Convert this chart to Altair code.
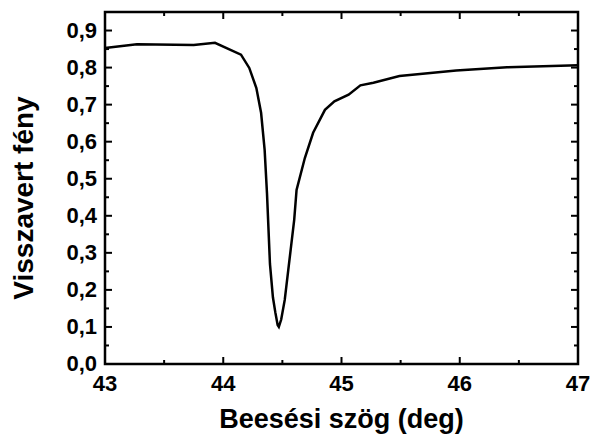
import altair as alt
import pandas as pd

# Curve data
angle = [43.0, 43.27, 43.75, 43.93, 44.15, 44.22, 44.28, 44.32, 44.35, 44.37,
         44.395, 44.42, 44.44, 44.46, 44.47, 44.49, 44.52, 44.55, 44.57, 44.60,
         44.62, 44.69, 44.76, 44.86, 44.94, 45.06, 45.16, 45.27, 45.49, 45.97,
         46.40, 47.0]
reflect = [0.853, 0.863, 0.861, 0.867, 0.835, 0.799, 0.745, 0.678, 0.578, 0.46,
           0.27, 0.18, 0.14, 0.105, 0.10, 0.12, 0.173, 0.254, 0.308, 0.389,
           0.47, 0.556, 0.624, 0.686, 0.709, 0.727, 0.752, 0.759, 0.777, 0.792,
           0.801, 0.806]

x_major = [43, 44, 45, 46, 47]
x_labels = ["43", "44", "45", "46", "47"]
x_minor = [43.5, 44.5, 45.5, 46.5]
y_major = [0.0, 0.1, 0.2, 0.3, 0.4, 0.5, 0.6, 0.7, 0.8, 0.9]
y_labels = ["0,0", "0,1", "0,2", "0,3", "0,4", "0,5", "0,6", "0,7", "0,8", "0,9"]
y_minor = [0.05, 0.15, 0.25, 0.35, 0.45, 0.55, 0.65, 0.75, 0.85]
x_title = "Beesési szög (deg)"
y_title = "Visszavert fény"

W, H = 473, 352
X0, X1 = 43, 47
Y0, Y1 = 0, 0.95
FONT = "Liberation Sans"

df = pd.DataFrame({"angle": angle, "r": reflect})
xs = alt.Scale(domain=[X0, X1], nice=False, zero=False)
ys = alt.Scale(domain=[Y0, Y1], nice=False, zero=False)

# tick lengths in pixels, converted to data units of each scale
PX_X = (X1 - X0) / W
PX_Y = (Y1 - Y0) / H
MAJOR, MINOR = 7, 4

rows = []
tid = 0
for vals, ln in ((x_major, MAJOR), (x_minor, MINOR)):
    for v in vals:
        # bottom tick (inward)
        rows += [{"id": tid, "x": v, "y": Y0}, {"id": tid, "x": v, "y": Y0 + ln * PX_Y}]
        tid += 1
        # top tick (inward)
        rows += [{"id": tid, "x": v, "y": Y1}, {"id": tid, "x": v, "y": Y1 - ln * PX_Y}]
        tid += 1
for vals, ln in ((y_major, MAJOR), (y_minor, MINOR)):
    for v in vals:
        # left tick
        rows += [{"id": tid, "x": X0, "y": v}, {"id": tid, "x": X0 + ln * PX_X, "y": v}]
        tid += 1
        # right tick
        rows += [{"id": tid, "x": X1 - ln * PX_X, "y": v}, {"id": tid, "x": X1, "y": v}]
        tid += 1
ticks_df = pd.DataFrame(rows)

line = alt.Chart(df).mark_line(color="black", strokeWidth=2.5).encode(
    x=alt.X("angle:Q", scale=xs, axis=None),
    y=alt.Y("r:Q", scale=ys, axis=None),
)

ticks = alt.Chart(ticks_df).mark_line(color="black", strokeWidth=2, strokeCap="butt").encode(
    x=alt.X("x:Q", scale=xs, axis=None),
    y=alt.Y("y:Q", scale=ys, axis=None),
    detail="id:N",
)

xlab = alt.Chart(pd.DataFrame({"v": x_major, "lab": x_labels})).mark_text(
    font=FONT, fontSize=22, fontWeight="bold", color="black",
    align="center", baseline="top"
).encode(
    x=alt.X("v:Q", scale=xs, axis=None),
    y=alt.value(H + 10),
    text="lab:N",
)

ylab = alt.Chart(pd.DataFrame({"v": y_major, "lab": y_labels})).mark_text(
    font=FONT, fontSize=22, fontWeight="bold", color="black",
    align="right", baseline="middle"
).encode(
    y=alt.Y("v:Q", scale=ys, axis=None),
    x=alt.value(-8),
    text="lab:N",
)

xtit = alt.Chart(pd.DataFrame({"t": [x_title]})).mark_text(
    font=FONT, fontSize=27, fontWeight="bold", color="black",
    align="center", baseline="alphabetic"
).encode(
    x=alt.value(W / 2),
    y=alt.value(H + 64),
    text="t:N",
)

ytit = alt.Chart(pd.DataFrame({"t": [y_title]})).mark_text(
    font=FONT, fontSize=28, fontWeight="bold", color="black",
    align="center", baseline="alphabetic", angle=270
).encode(
    x=alt.value(-72),
    y=alt.value(186),
    text="t:N",
)

chart = alt.layer(line, ticks, xlab, ylab, xtit, ytit).properties(
    width=W, height=H,
    padding={"left": 105, "top": 12, "right": 13, "bottom": 75},
    autosize=alt.AutoSizeParams(type="none"),
    background="white",
).configure_view(stroke="black", strokeWidth=2.5)

chart.save("out.html", embed_options={"renderer": "svg", "actions": False})
